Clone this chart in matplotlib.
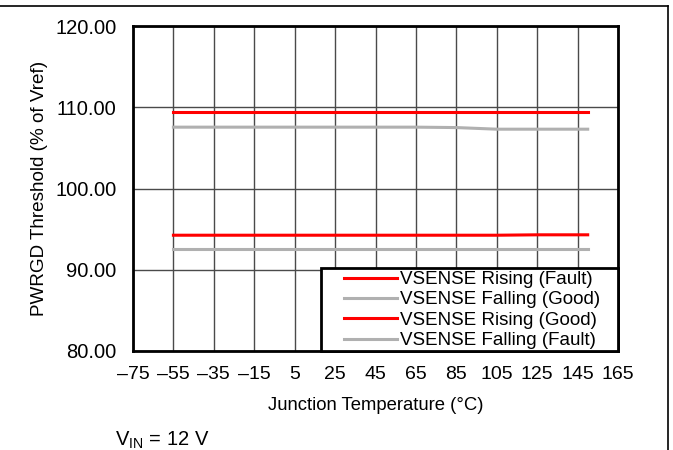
import matplotlib
matplotlib.use("Agg")
import matplotlib.pyplot as plt
from matplotlib.lines import Line2D
from matplotlib.patches import Rectangle

plt.rcParams['font.family'] = ['Liberation Sans', 'DejaVu Sans']
plt.rcParams['mathtext.fontset'] = 'custom'
plt.rcParams['mathtext.rm'] = 'Liberation Sans'

# temperature points
temp = [-55, -35, -15, 5, 25, 45, 65, 85, 105, 125, 150]
rising_fault = [109.4, 109.4, 109.4, 109.4, 109.4, 109.4, 109.4, 109.4, 109.4, 109.4, 109.4]
falling_good = [107.55, 107.55, 107.55, 107.55, 107.55, 107.55, 107.55, 107.5, 107.3, 107.3, 107.3]
rising_good = [94.25, 94.25, 94.25, 94.25, 94.25, 94.25, 94.25, 94.25, 94.25, 94.3, 94.3]
falling_fault = [92.55, 92.55, 92.55, 92.55, 92.55, 92.55, 92.55, 92.55, 92.55, 92.55, 92.55]

xticks = [-75, -55, -35, -15, 5, 25, 45, 65, 85, 105, 125, 145, 165]
yticks = [80, 90, 100, 110, 120]

fig = plt.figure(figsize=(6.73, 4.5), dpi=100)
ax = fig.add_axes([133 / 673, 1 - 351 / 450, (618 - 133) / 673, (351 - 26) / 450])

ax.plot(temp, rising_fault, color='#ff0000', lw=2.2, label='VSENSE Rising (Fault)', zorder=3)
ax.plot(temp, falling_good, color='#b0b0b0', lw=2.2, label='VSENSE Falling (Good)', zorder=3)
ax.plot(temp, rising_good, color='#ff0000', lw=2.2, label='VSENSE Rising (Good)', zorder=3)
ax.plot(temp, falling_fault, color='#b0b0b0', lw=2.2, label='VSENSE Falling (Fault)', zorder=3)

ax.set_xlim(-75, 165)
ax.set_ylim(80, 120)
ax.set_xticks(xticks)
ax.set_xticklabels([str(v).replace('-', '\u2013') for v in xticks])
ax.set_yticks(yticks)
ax.set_yticklabels(['%.2f' % v for v in yticks])
ax.tick_params(axis='x', length=0, labelsize=14, pad=11)
ax.tick_params(axis='y', length=0, labelsize=14.5, pad=12)
ax.grid(True, color='#4a4a4a', lw=1.0)
ax.set_axisbelow(True)
for s in ax.spines.values():
    s.set_linewidth(2)
    s.set_color('black')

ax.set_xlabel('Junction Temperature (\u00b0C)', fontsize=13.3, labelpad=10)
ax.set_ylabel('PWRGD Threshold (% of Vref)', fontsize=13.6, labelpad=5)

# legend box
box_x0 = (321 - 133) / 485
box_top = (351 - 268) / 325
ax.add_patch(Rectangle((box_x0, 0), 1 - box_x0, box_top, transform=ax.transAxes,
                       facecolor='white', edgecolor='black', lw=2, zorder=4, clip_on=False))
leg = ax.legend(loc='upper left', bbox_to_anchor=((344 - 133) / 485, (351 - 271) / 325),
                fontsize=13.5, frameon=False, borderaxespad=0, borderpad=0,
                handlelength=2.8, handletextpad=0.2, labelspacing=0.17)
leg.set_zorder(5)

fig.text(115 / 673, 1 - 440 / 450, r'V$_{\mathregular{IN}}$ = 12 V', fontsize=14.5, va='center')

# outer frame lines (top and right)
fig.add_artist(Line2D([0, 668 / 673], [1 - 6 / 450, 1 - 6 / 450], color='black', lw=1.2))
fig.add_artist(Line2D([668 / 673, 668 / 673], [0, 1 - 6 / 450], color='black', lw=1.2))

fig.savefig('out.png', dpi=100)
